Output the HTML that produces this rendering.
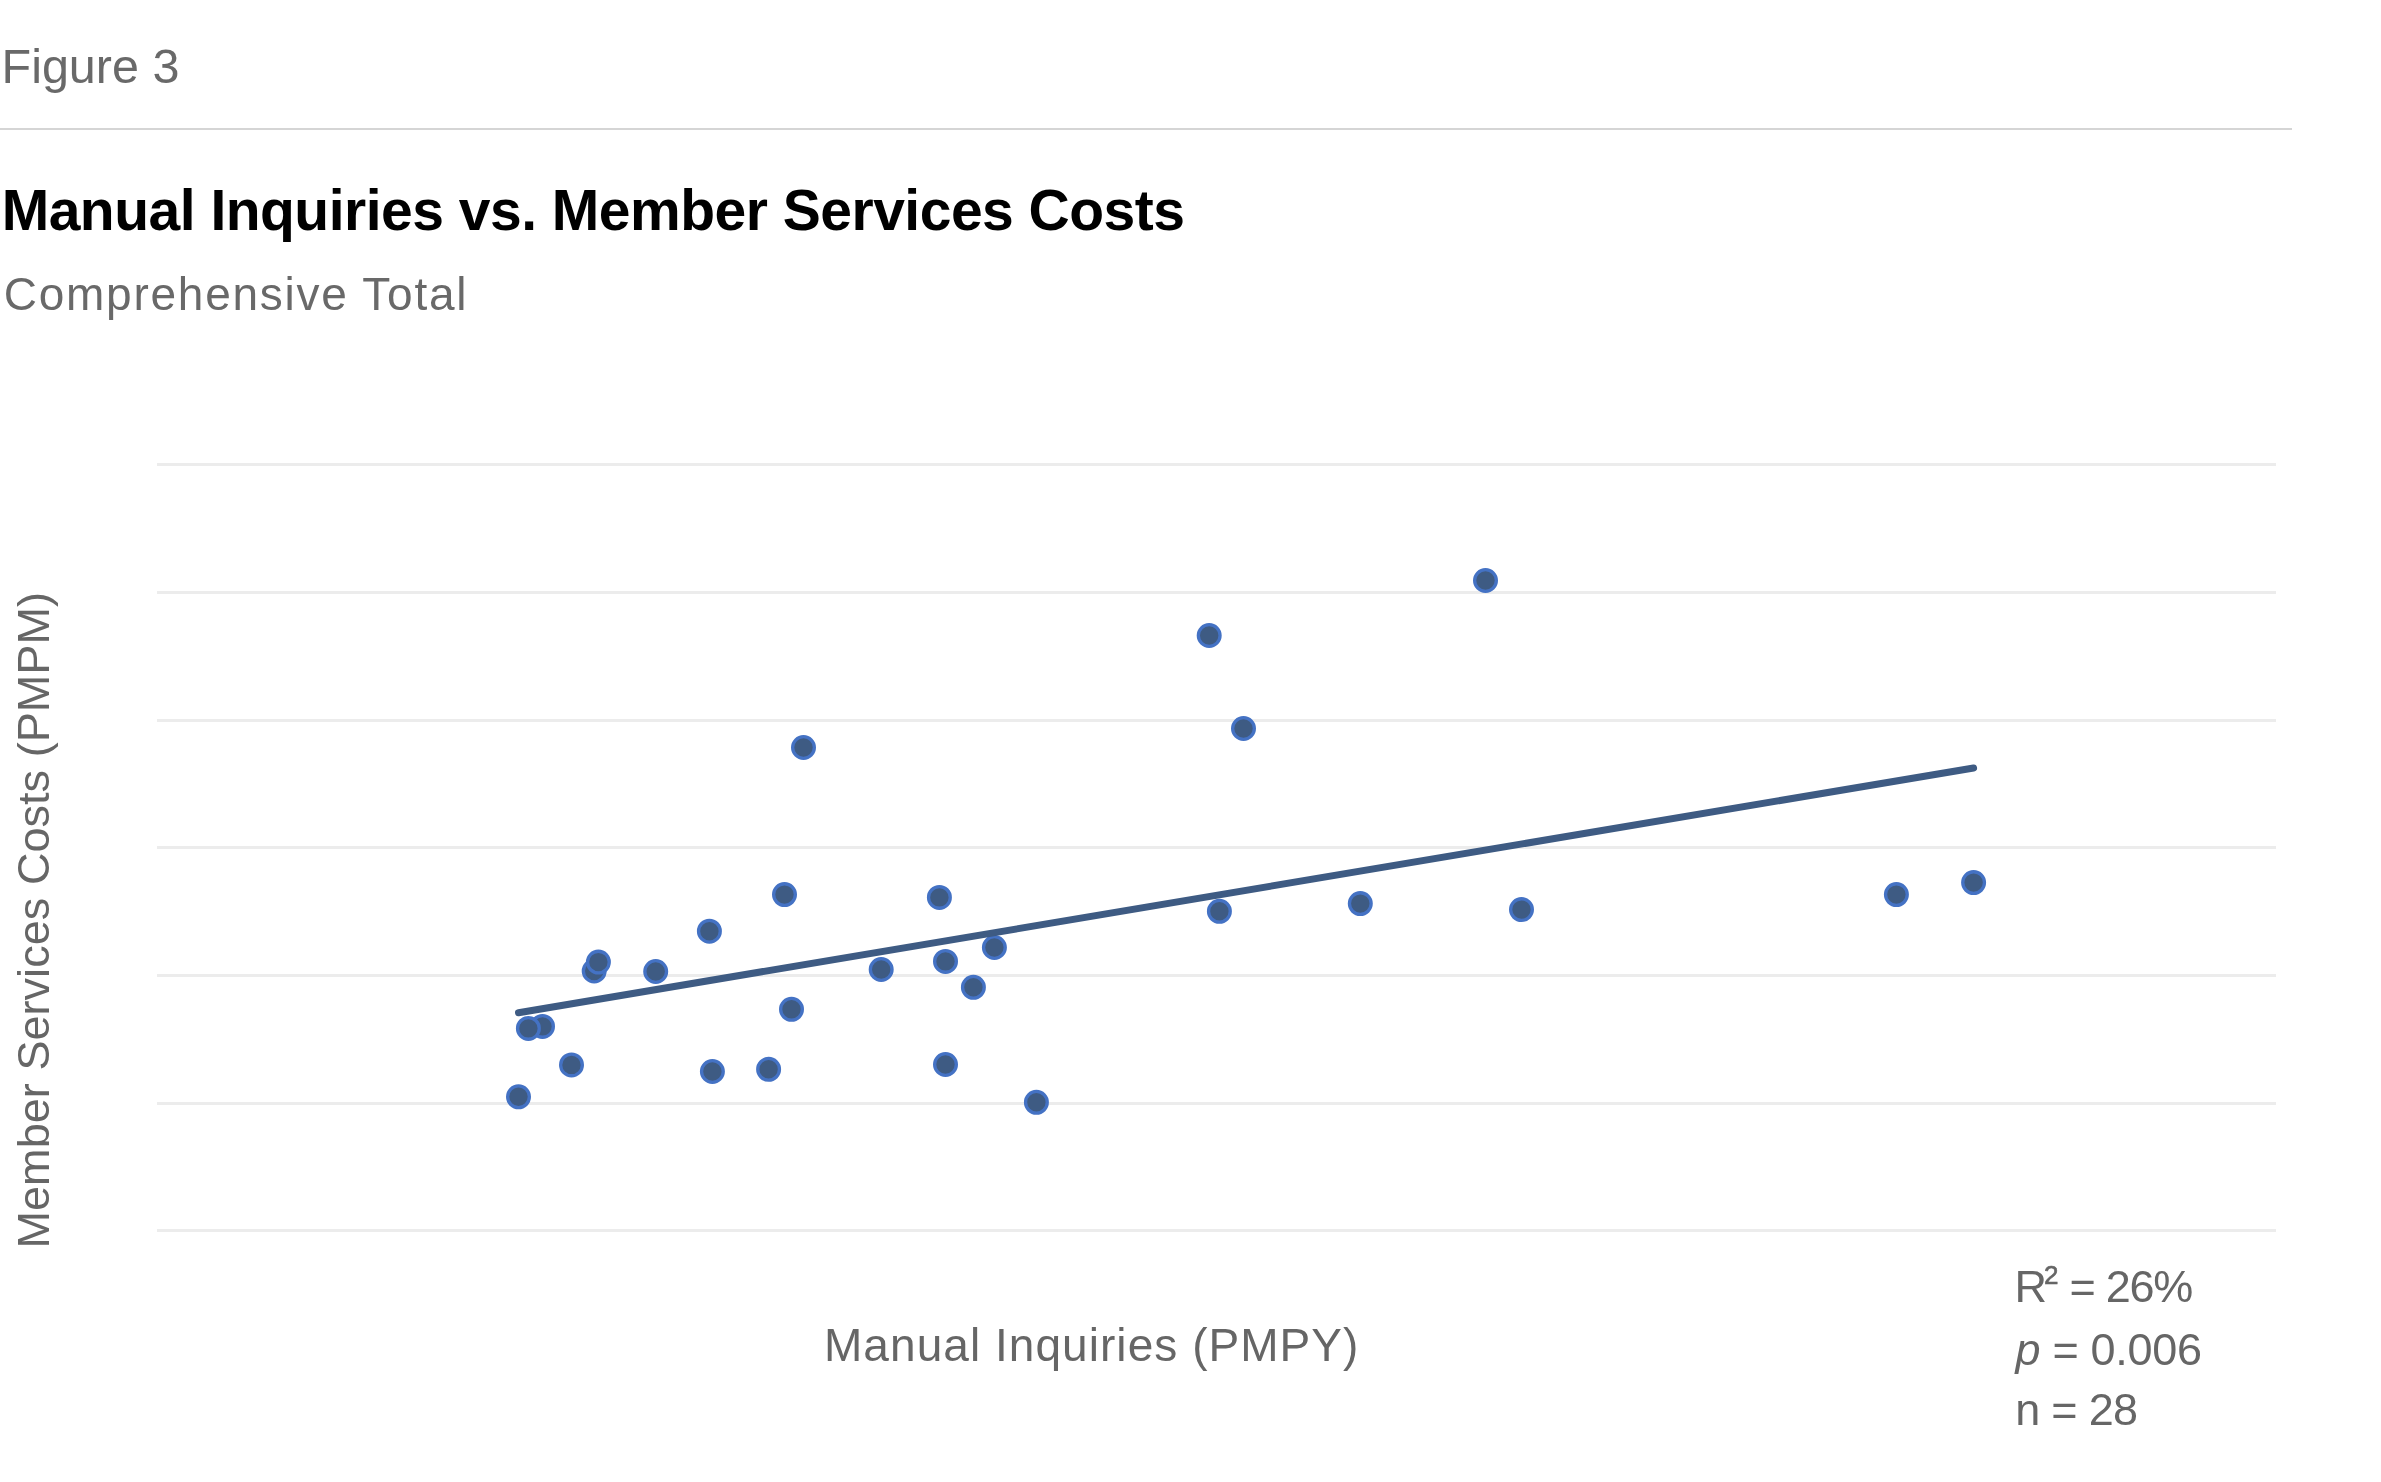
<!DOCTYPE html>
<html lang="en">
<head>
<meta charset="utf-8">
<title>Figure 3 – Manual Inquiries vs. Member Services Costs</title>
<style>
  html, body { margin: 0; padding: 0; background: #ffffff; }
  body {
    width: 2381px; height: 1482px; position: relative; overflow: hidden;
    font-family: "Liberation Sans", sans-serif;
  }
  .figure { will-change: transform; transform: translateZ(0); position: absolute; left: 0; top: 0; width: 2381px; height: 1482px; }
  .fig-label {
    position: absolute; left: 0; top: 0; margin: 0;
    font-size: 48.5px; line-height: 54px; font-weight: 400; color: #696969; letter-spacing: 0px;
    white-space: nowrap;
  }
  .rule {
    position: absolute; left: 0; top: 128px; width: 2292px; height: 2px;
    background: #d5d5d5; border: 0; margin: 0;
  }
  .title {
    position: absolute; left: 0; top: 0; margin: 0;
    font-size: 57px; line-height: 64px; font-weight: 700; color: #000000; letter-spacing: -0.5px;
    white-space: nowrap;
  }
  .subtitle {
    position: absolute; left: 0; top: 0; margin: 0;
    font-size: 46px; line-height: 52px; font-weight: 400; color: #696969; letter-spacing: 1.75px;
    white-space: nowrap;
  }
  .chart { position: absolute; left: 0; top: 0; width: 2381px; height: 1482px; display: block; }
  .chart text { font-family: "Liberation Sans", sans-serif; fill: #666666; }
</style>
</head>
<body>
<figure class="figure" style="margin:0">
  <p class="fig-label" id="figlabel" style="left:1.5px; top:38.8px;">Figure 3</p>
  <hr class="rule">
  <h1 class="title" id="title" style="left:1.7px; top:177.8px;">Manual Inquiries vs. Member Services Costs</h1>
  <p class="subtitle" id="subtitle" style="left:3.7px; top:268px;">Comprehensive Total</p>

  <svg class="chart" width="2381" height="1482" viewBox="0 0 2381 1482">
    <!-- horizontal gridlines -->
    <g fill="#ececec" shape-rendering="crispEdges">
      <rect x="157" y="463" width="2119" height="3"/>
      <rect x="157" y="591" width="2119" height="3"/>
      <rect x="157" y="719" width="2119" height="3"/>
      <rect x="157" y="846" width="2119" height="3"/>
      <rect x="157" y="974" width="2119" height="3"/>
      <rect x="157" y="1102" width="2119" height="3"/>
      <rect x="157" y="1229" width="2119" height="3"/>
    </g>

    <!-- scatter points -->
    <g fill="#3e5b83" stroke="#4472c4" stroke-width="3.3">
      <circle cx="518.5"  cy="1096.8" r="10.85"/>
      <circle cx="542.5"  cy="1026.4" r="10.85"/>
      <circle cx="528.4"  cy="1028.4" r="10.85"/>
      <circle cx="571.5"  cy="1064.9" r="10.85"/>
      <circle cx="594.2"  cy="971.0"  r="10.85"/>
      <circle cx="598.4"  cy="962.1"  r="10.85"/>
      <circle cx="655.7"  cy="971.5"  r="10.85"/>
      <circle cx="709.4"  cy="931.2"  r="10.85"/>
      <circle cx="712.4"  cy="1071.5" r="10.85"/>
      <circle cx="768.6"  cy="1069.3" r="10.85"/>
      <circle cx="784.5"  cy="894.6"  r="10.85"/>
      <circle cx="791.5"  cy="1009.3" r="10.85"/>
      <circle cx="803.5"  cy="747.5"  r="10.85"/>
      <circle cx="881.2"  cy="969.5"  r="10.85"/>
      <circle cx="939.4"  cy="897.4"  r="10.85"/>
      <circle cx="945.5"  cy="961.4"  r="10.85"/>
      <circle cx="945.5"  cy="1064.5" r="10.85"/>
      <circle cx="973.4"  cy="987.3"  r="10.85"/>
      <circle cx="994.4"  cy="947.5"  r="10.85"/>
      <circle cx="1036.4" cy="1102.3" r="10.85"/>
      <circle cx="1209.2" cy="635.5"  r="10.85"/>
      <circle cx="1219.4" cy="911.3"  r="10.85"/>
      <circle cx="1243.5" cy="728.5"  r="10.85"/>
      <circle cx="1360.3" cy="903.6"  r="10.85"/>
      <circle cx="1485.5" cy="580.5"  r="10.85"/>
      <circle cx="1521.5" cy="909.6"  r="10.85"/>
      <circle cx="1896.4" cy="894.6"  r="10.85"/>
      <circle cx="1973.6" cy="882.6"  r="10.85"/>
    </g>

    <!-- linear trend line -->
    <line x1="518.5" y1="1012.7" x2="1973.6" y2="768" stroke="#3e5b83" stroke-width="7" stroke-linecap="round"/>

    <!-- axis titles -->
    <text id="ylabel" transform="translate(49 1248.5) rotate(-90)" font-size="45" letter-spacing="0.05">Member Services Costs (PMPM)</text>
    <text id="xlabel" x="824" y="1361.3" font-size="46" letter-spacing="1.05">Manual Inquiries (PMPY)</text>

    <!-- regression statistics -->
    <g font-size="45">
      <text id="stat1" x="2014.5" y="1302.4" letter-spacing="-1.3">R<tspan dx="-1.8" dy="-18.4" font-size="26" stroke="#666666" stroke-width="0.6">2</tspan><tspan dx="1.3" dy="18.4"> = 26%</tspan></text>
      <text id="stat2" x="2015.5" y="1364.6" letter-spacing="-0.3"><tspan font-style="italic">p</tspan> = 0.006</text>
      <text id="stat3" x="2015.2" y="1424.8" letter-spacing="-0.7">n = 28</text>
    </g>
  </svg>
</figure>
</body>
</html>
